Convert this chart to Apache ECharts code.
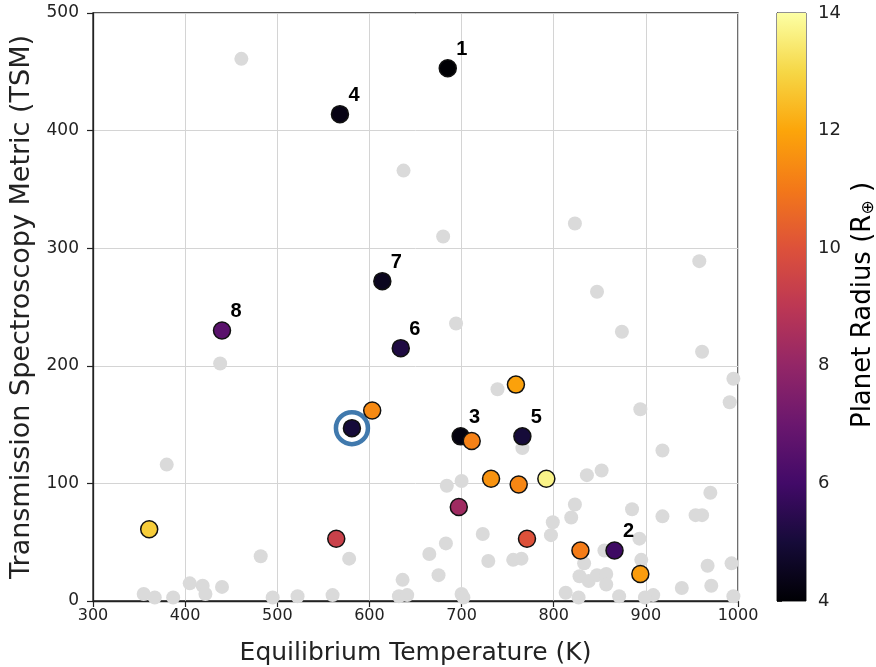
<!DOCTYPE html>
<html><head><meta charset="utf-8">
<script src="https://cdn.jsdelivr.net/npm/echarts@6/dist/echarts.min.js"></script>
<style>html,body{margin:0;padding:0;background:#fff}#c{width:876px;height:667px}</style>
</head><body><div id="c"></div>
<script>
// Background (grey) planets: equilibrium temperature (K) and TSM
const greyT = [461,637,680,823,958,847,438,380,482,578,636,355,367,387,405,419,422,440,495,522,560,632,641,
  694,874,961,995,991,739,894,918,766,836,852,684,700,970,823,885,819,918,954,961,799,723,797,893,683,665,
  729,756,765,833,895,967,993,675,828,838,847,857,857,939,971,813,871,908,700,702,827,899,995,855];
const greyTSM = [461,366,310,321,289,263,202,116,38,36,18,6,3,3,15,13,6,12,3,4,5,4,5,
  236,229,212,189,169,180,163,128,130,107,111,98,102,92,82,78,71,72,73,73,67,57,56,53,49,40,
  34,35,36,32,35,30,32,22,21,17,22,23,14,11,13,7,4,5,6,3,3,3,4,43];

// Highlighted planets
const hlT      = [685, 568, 614, 440, 634, 581, 603, 699, 711, 766, 759, 732, 762, 792, 697, 771, 564, 361, 829, 866, 894];
const hlTSM    = [453, 414, 272, 230, 215, 147, 162, 140, 136, 140, 184, 104,  99, 104,  80,  53,  53,  61,  43,  43,  23];
const hlRadius = [4.0, 4.3, 4.5, 6.6, 5.2, 5.0, 11.4, 4.2, 11.2, 5.0, 11.9, 11.6, 11.3, 13.7, 8.3, 10.0, 9.4, 12.8, 11.1, 5.9, 11.8];
const hlLabel  = ['1','4','7','8','6','','','3','','5','','','','','','','','','','2',''];

// Circled target
const circledT = [581];
const circledTSM = [147];

// Axis ticks
const xMin = 300, xMax = 1000, xStep = 100;
const yMin = 0, yMax = 500, yStep = 100;
const cbMin = 4, cbMax = 14, cbStep = 2;

const inferno = ['#000004','#160b39','#420a68','#6a176e','#932667','#bc3754','#dd513a','#f37819','#fca50a','#f6d746','#fcffa4'];

const chart = echarts.init(document.getElementById('c'), null, {renderer:'canvas'});
const FONT = 'DejaVu Sans';
const axisCol = '#222';

const greyData = greyT.map((t,i)=>[t, greyTSM[i]]);
const hlData = hlT.map((t,i)=>[t, hlTSM[i], hlRadius[i], hlLabel[i]]);
const circData = circledT.map((t,i)=>[t, circledTSM[i]]);

const stops = inferno.map((c,i)=>({offset:i/(inferno.length-1), color:c}));

chart.setOption({
  animation:false,
  backgroundColor:'#fff',
  grid:[
    {left:93, top:13, width:645, height:588, show:true, borderColor:axisCol, borderWidth:1.3,
     backgroundColor:'transparent', containLabel:false, outerBoundsMode:'none'},
    {left:777, top:13, width:29, height:588, show:true, borderColor:axisCol, borderWidth:1,
     containLabel:false, outerBoundsMode:'none'}
  ],
  xAxis:[
    {gridIndex:0, type:'value', min:xMin, max:xMax, interval:xStep,
     name:'Equilibrium Temperature (K)', nameLocation:'middle', nameGap:40,
     nameTextStyle:{fontSize:25, fontFamily:FONT, color:axisCol},
     axisLine:{show:true, lineStyle:{color:axisCol, width:1.3}},
     axisTick:{show:true, length:6, lineStyle:{color:axisCol, width:1.2}},
     axisLabel:{fontSize:16, fontFamily:FONT, color:axisCol, margin:7, formatter:v=>String(v)},
     splitLine:{show:true, lineStyle:{color:'#d4d4d4', width:1}}},
    {gridIndex:1, type:'value', min:0, max:1, show:false}
  ],
  yAxis:[
    {gridIndex:0, type:'value', min:yMin, max:yMax, interval:yStep,
     name:'Transmission Spectroscopy Metric (TSM)', nameLocation:'middle', nameGap:53,
     nameTextStyle:{fontSize:27, fontFamily:FONT, color:axisCol},
     axisLine:{show:true, lineStyle:{color:axisCol, width:1.3}},
     axisTick:{show:true, length:6, lineStyle:{color:axisCol, width:1.2}},
     axisLabel:{fontSize:17, fontFamily:FONT, color:axisCol, margin:14},
     splitLine:{show:true, lineStyle:{color:'#d4d4d4', width:1}}},
    {gridIndex:1, type:'value', min:cbMin, max:cbMax, interval:cbStep, position:'right',
     axisLine:{show:true, lineStyle:{color:axisCol, width:1}},
     axisTick:{show:true, length:5, lineStyle:{color:axisCol, width:1}},
     axisLabel:{fontSize:18, fontFamily:FONT, color:axisCol, margin:12},
     splitLine:{show:false}}
  ],
  visualMap:[{show:false, type:'continuous', min:cbMin, max:cbMax, dimension:2, seriesIndex:2,
    inRange:{color:inferno}}],
  graphic:[{type:'text', x:863, y:305, rotation:Math.PI/2,
    style:{text:'{a|Planet Radius (R}{b|⊕}{a| )}', align:'center', verticalAlign:'middle',
      rich:{a:{fontSize:26, fontFamily:FONT, color:axisCol},
            b:{fontSize:17, fontFamily:FONT, color:axisCol, padding:[11,0,0,0]}}}}],
  series:[
    {type:'scatter', xAxisIndex:0, yAxisIndex:0, data:greyData, symbolSize:14, silent:true, z:2,
     itemStyle:{color:'#dadada', opacity:1}},
    {type:'scatter', xAxisIndex:0, yAxisIndex:0, data:circData, symbolSize:32, silent:true, z:3,
     itemStyle:{color:'rgba(255,255,255,0)', borderColor:'#105898', borderWidth:4.5}},
    {type:'scatter', xAxisIndex:0, yAxisIndex:0, data:hlData, symbolSize:17, silent:true, z:4,
     itemStyle:{borderColor:'#111', borderWidth:1.5, opacity:1},
     label:{show:true, formatter:p=>p.value[3], position:'inside', offset:[14,-19],
       fontSize:20, fontWeight:'bold', fontFamily:'Liberation Sans', color:'#000'}},
    {type:'custom', xAxisIndex:1, yAxisIndex:1, data:[[0, cbMin, 1, cbMax]], silent:true, z:1,
     renderItem:(params, api)=>{
       const p0 = api.coord([api.value(0), api.value(3)]);
       const p1 = api.coord([api.value(2), api.value(1)]);
       return {type:'rect', shape:{x:p0[0], y:p0[1], width:p1[0]-p0[0], height:p1[1]-p0[1]},
         style:{fill:new echarts.graphic.LinearGradient(0,1,0,0, stops)}};
     }}
  ]
});
</script></body></html>
